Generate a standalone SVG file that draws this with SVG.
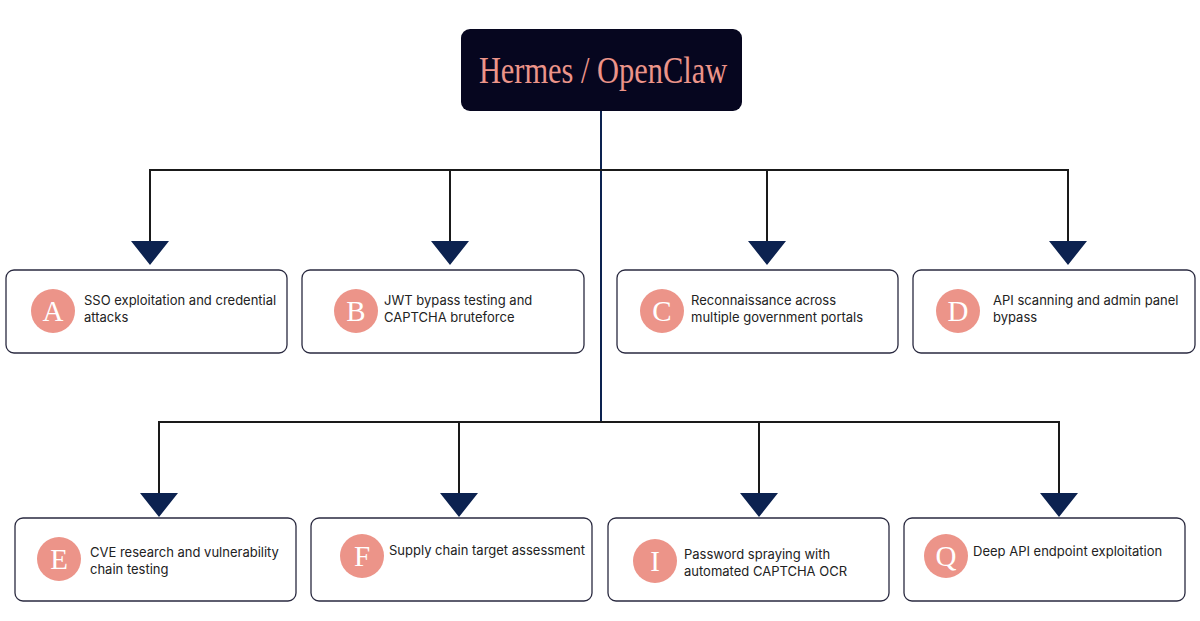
<svg xmlns="http://www.w3.org/2000/svg" width="1200" height="621" viewBox="0 0 1200 621">
<style>
.box{fill:#fff;stroke:#2a2a40;stroke-width:1.3}
.c{fill:#ec9489}
.l{font-family:"Liberation Serif",serif;font-size:29px;fill:#fff;text-anchor:middle}
.t{font-family:"Inter","Liberation Sans",sans-serif;font-size:13px;fill:#222}
.w{fill:none;stroke:#1a1a1a;stroke-width:2}
.a{fill:#0c2250}
</style>
<rect width="1200" height="621" fill="#fff"/>
<g id="connectors">
<line x1="601" y1="111" x2="601" y2="422" stroke="#0c2250" stroke-width="2"/>
<path class="w" d="M150 241V170H1068V241M450 170V241M767 170V241"/>
<path class="w" d="M159 493V422H1059V493M459 422V493M759 422V493"/>
<path class="a" d="M131 241h38l-19 24zM431 241h38l-19 24zM748 241h38l-19 24zM1049 241h38l-19 24z"/>
<path class="a" d="M140 493h38l-19 24zM440 493h38l-19 24zM740 493h38l-19 24zM1040 493h38l-19 24z"/>
</g>
<g id="root"><rect x="461" y="29" width="281" height="82" rx="9" fill="#06061f"/>
<text x="603" y="83" font-family="'Liberation Serif',serif" font-size="38" fill="#ec9489" text-anchor="middle" transform="translate(603 0) scale(0.8 1) translate(-603 0)">Hermes / OpenClaw</text></g>
<g id="A"><rect class="box" x="6" y="270" width="281" height="83" rx="8"/><circle class="c" cx="53" cy="311" r="22"/><text class="l" x="53" y="321">A</text><text class="t" x="84" y="305">SSO exploitation and credential</text><text class="t" x="84" y="322">attacks</text></g>
<g id="B"><rect class="box" x="302" y="270" width="282" height="83" rx="8"/><circle class="c" cx="356" cy="311" r="22"/><text class="l" x="356" y="321">B</text><text class="t" x="384" y="305">JWT bypass testing and</text><text class="t" x="384" y="322">CAPTCHA bruteforce</text></g>
<g id="C"><rect class="box" x="617" y="270" width="281" height="83" rx="8"/><circle class="c" cx="662" cy="311" r="22"/><text class="l" x="662" y="321">C</text><text class="t" x="691" y="305">Reconnaissance across</text><text class="t" x="691" y="322">multiple government portals</text></g>
<g id="D"><rect class="box" x="913" y="270" width="282" height="83" rx="8"/><circle class="c" cx="958" cy="311" r="22"/><text class="l" x="958" y="321">D</text><text class="t" x="993" y="305">API scanning and admin panel</text><text class="t" x="993" y="322">bypass</text></g>
<g id="E"><rect class="box" x="15" y="518" width="281" height="83" rx="8"/><circle class="c" cx="59" cy="559" r="22"/><text class="l" x="59" y="569">E</text><text class="t" x="90" y="557">CVE research and vulnerability</text><text class="t" x="90" y="574">chain testing</text></g>
<g id="F"><rect class="box" x="311" y="518" width="281" height="83" rx="8"/><circle class="c" cx="362" cy="556" r="22"/><text class="l" x="362" y="566">F</text><text class="t" x="389" y="555">Supply chain target assessment</text></g>
<g id="I"><rect class="box" x="608" y="518" width="281" height="83" rx="8"/><circle class="c" cx="655" cy="561" r="22"/><text class="l" x="655" y="571">I</text><text class="t" x="684" y="559">Password spraying with</text><text class="t" x="684" y="576">automated CAPTCHA OCR</text></g>
<g id="Q"><rect class="box" x="904" y="518" width="281" height="83" rx="8"/><circle class="c" cx="946" cy="556" r="22"/><text class="l" x="946" y="566">Q</text><text class="t" x="973" y="556">Deep API endpoint exploitation</text></g>
</svg>
